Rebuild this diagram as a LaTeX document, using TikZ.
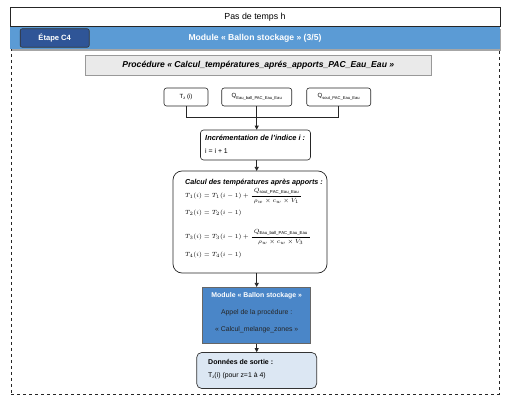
\documentclass[tikz,border=0pt]{standalone}
\usepackage{amsmath}
\usepackage{fontspec}
\setmainfont{Liberation Sans}
\usetikzlibrary{arrows.meta}
\definecolor{barblue}{HTML}{5B9BD5}
\definecolor{darkblue}{HTML}{2F5597}
\definecolor{modblue}{HTML}{4A86C8}
\definecolor{lightblue}{HTML}{DCE7F3}
\definecolor{procgrey}{HTML}{EAEAEA}
\newcommand{\tinysub}[1]{\raisebox{-0.45ex}{\fontsize{4.1}{4.5}\selectfont #1}}
\tikzset{
  inbox/.style={draw=black!85, rounded corners=2.5pt, line width=0.6pt, fill=white, font=\fontsize{6}{7}\selectfont, minimum height=18pt, inner sep=1pt},
  conn/.style={draw=black!85, line width=0.7pt},
  arr/.style={conn, -{Triangle[length=4pt,width=4pt]}},
  small/.style={font=\fontsize{6.9}{8}\selectfont},
  eqn/.style={anchor=west, font=\fontsize{6.1}{7}\selectfont, inner sep=0pt}
}
\begin{document}
\begin{tikzpicture}[x=1pt,y=-1pt]
\useasboundingbox (0,0) rectangle (507,409);
% frame
\node[draw=black!85, dashed, line width=0.6pt, minimum width=488pt, minimum height=345pt, inner sep=0pt] (frame) at (255,221.5) {};
% header
\node[draw=black!85, line width=0.6pt, fill=white, minimum width=490pt, minimum height=19pt, inner sep=0pt, font=\fontsize{8.8}{10}\selectfont] (head) at (255,17) {Pas de temps h};
\fill[black!35] (12,29) rectangle (501,51);
\node[fill=barblue, minimum width=490pt, minimum height=22pt, inner sep=0pt, text=white, font=\fontsize{8.6}{10}\selectfont\bfseries] (bar) at (255,38) {Module « Ballon stockage » (3/5)};
\node[draw=black!80, fill=darkblue, rounded corners=2pt, line width=0.6pt, minimum width=69pt, minimum height=18.5pt, inner sep=0pt, text=white, font=\fontsize{7.6}{9}\selectfont\bfseries] (etape) at (54.7,38) {Étape C4};
% procedure
\node[draw=black!40, fill=procgrey, line width=0.6pt, minimum width=346pt, minimum height=20pt, inner sep=0pt, font=\fontsize{8.6}{10}\selectfont\bfseries\itshape] (proc) at (258.3,65) {Procédure « Calcul\_températures\_aprés\_apports\_PAC\_Eau\_Eau »};
% inputs
\node[inbox, minimum width=44pt] (tz) at (186,97) {T\tinysub{z} (i)};
\node[inbox, minimum width=70pt] (qb) at (256.7,97) {Q\tinysub{Eau\_ball\_PAC\_Eau\_Eau}};
\node[inbox, minimum width=64pt] (qs) at (338.7,97) {Q\tinysub{sout\_PAC\_Eau\_Eau}};
\coordinate (j) at (256.7,117.3);
\coordinate (jl) at (186,117.3);
\coordinate (jr) at (338.7,117.3);
\coordinate (ci) at (256.7,171);
\coordinate (co) at (256.7,273);
\draw[conn] (tz.south) -- (jl) -- (jr) -- (qs.south);
\draw[conn] (qb.south) -- (j);
% incrementation
\node[draw=black!85, fill=white, rounded corners=3pt, line width=0.6pt, minimum width=110pt, minimum height=30pt, inner sep=0pt] (inc) at (255.5,145) {};
\node[anchor=west, font=\fontsize{7.4}{8}\selectfont\bfseries\itshape, inner sep=0pt] (inct) at (205,137.5) {Incrémentation de l'indice i :};
\node[small, anchor=west, inner sep=0pt] (incb) at (205,151.5) {i = i + 1};
\draw[arr] (j) -- (j |- inc.north);
% calcul
\node[draw=black!85, fill=white, rounded corners=9pt, line width=0.7pt, minimum width=154pt, minimum height=102pt, inner sep=0pt] (calc) at (250,222) {};
\draw[arr] (ci |- inc.south) -- (ci);
\node[anchor=west, font=\fontsize{7.2}{8}\selectfont\bfseries\itshape, inner sep=0pt] (calct) at (185,182.7) {Calcul des températures après apports :};
\node[eqn] (eq1) at (185,196) {$T_1(i) = T_1(i-1) + \dfrac{\;Q_{\mathrm{sout\_PAC\_Eau\_Eau}}\;}{\rho_w\times c_w\times V_1}$};
\node[eqn] (eq2) at (185,213) {$T_2(i) = T_2(i-1)$};
\node[eqn] (eq3) at (185,237) {$T_3(i) = T_3(i-1) + \dfrac{\;Q_{\mathrm{Eau\_ball\_PAC\_Eau\_Eau}}\;}{\rho_w\times c_w\times V_3}$};
\node[eqn] (eq4) at (185,255) {$T_4(i) = T_4(i-1)$};
% module
\node[draw=black!60, fill=modblue, line width=0.6pt, minimum width=108pt, minimum height=56pt, inner sep=0pt] (mod) at (256.7,315.3) {};
\node[font=\fontsize{6.9}{8}\selectfont\bfseries, text=white] (modt) at (256.7,296) {Module « Ballon stockage »};
\node[small, text=black!85] (modm) at (256.7,313) {Appel de la procédure :};
\node[small, text=black!85] (modb) at (256.7,330) {« Calcul\_melange\_zones »};
\draw[arr] (co) -- (mod.north);
% donnees
\node[draw=black!80, fill=lightblue, rounded corners=5pt, line width=0.7pt, minimum width=120pt, minimum height=36pt, inner sep=0pt] (out) at (256.7,370.5) {};
\draw[arr] (mod.south) -- (out.north);
\node[anchor=west, font=\fontsize{7}{8}\selectfont\bfseries, inner sep=0pt] (outt) at (208,361.7) {Données de sortie :};
\node[anchor=west, small, inner sep=0pt] (outb) at (208,375.5) {T\tinysub{z}(i) (pour z=1 à 4)};
\end{tikzpicture}
\end{document}
